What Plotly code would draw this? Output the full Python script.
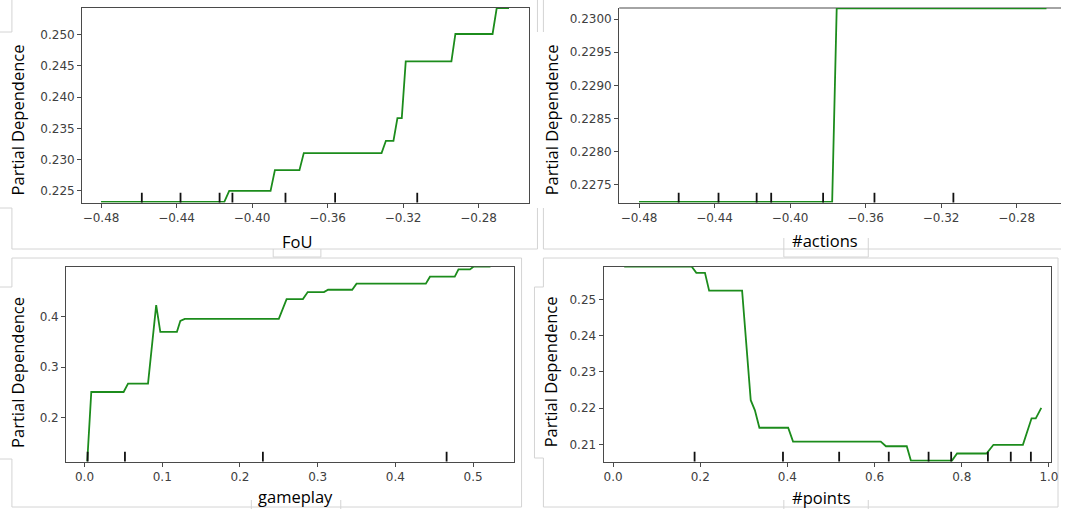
import plotly.graph_objects as go

W, H = 1068, 509

# Partial dependence curves (grid value, averaged prediction)
fou_x = [-0.4800, -0.4147, -0.4121, -0.3902, -0.3879, -0.3749, -0.3726, -0.3314, -0.3291,
         -0.3251, -0.3230, -0.3207, -0.3186, -0.2944, -0.2923, -0.2726, -0.2704, -0.2639]
fou_pd = [0.22324, 0.22324, 0.22500, 0.22500, 0.22831, 0.22831, 0.23104, 0.23104, 0.23301,
          0.23301, 0.23665, 0.23665, 0.24573, 0.24573, 0.25011, 0.25011, 0.25427, 0.25427]
fou_deciles = [-0.4584, -0.4379, -0.4172, -0.4104, -0.3823, -0.3560, -0.3125]

actions_x = [-0.4800, -0.3777, -0.3753, -0.2642]
actions_pd = [0.227243, 0.227243, 0.230161, 0.230161]
actions_deciles = [-0.4590, -0.4379, -0.4177, -0.4100, -0.3825, -0.3553, -0.3135]

gameplay_x = [0.0035, 0.0087, 0.0503, 0.0560, 0.0817, 0.0922, 0.0975, 0.1189, 0.1233, 0.1290,
              0.2500, 0.2600, 0.2810, 0.2872, 0.3081, 0.3134, 0.3444, 0.3500, 0.4392, 0.4445,
              0.4764, 0.4812, 0.4960, 0.5004, 0.5223]
gameplay_pd = [0.1132, 0.2510, 0.2510, 0.2675, 0.2675, 0.4232, 0.3702, 0.3702, 0.3920, 0.3960,
               0.3960, 0.4351, 0.4351, 0.4490, 0.4490, 0.4536, 0.4536, 0.4656, 0.4656, 0.4795,
               0.4795, 0.4940, 0.4940, 0.4993, 0.4993]
gameplay_deciles = [0.0040, 0.0520, 0.2295, 0.4659]

points_x = [0.0255, 0.1806, 0.1910, 0.2108, 0.2204, 0.2960, 0.3158, 0.3254, 0.3357, 0.4017,
            0.4129, 0.6142, 0.6261, 0.6738, 0.6834, 0.7772, 0.7892, 0.8568, 0.8727, 0.9403,
            0.9602, 0.9698, 0.9825]
points_pd = [0.2590, 0.2590, 0.2573, 0.2573, 0.2524, 0.2524, 0.2222, 0.2194, 0.2146, 0.2146,
             0.2108, 0.2108, 0.2095, 0.2095, 0.2055, 0.2055, 0.2075, 0.2075, 0.2099, 0.2099,
             0.2172, 0.2172, 0.2201]
points_deciles = [0.1870, 0.3898, 0.5187, 0.6325, 0.7239, 0.7757, 0.8600, 0.9125, 0.9586]

feature_names = ["FoU", "#actions", "gameplay", "#points"]
y_title = "Partial Dependence"

LINE_GREEN = "#1c8c1c"
SPINE = "#4a4a4a"
FRAME = "#d4d4d4"


def px(x):
    return x / W


def py(y):
    return 1 - y / H


panels = [
    dict(x=fou_x, y=fou_pd, dec=fou_deciles, xd=(82.7, 532.5), yd=(8, 202.5),
         xr=(-0.49, -0.2533), yr=(0.22313, 0.25427),
         xt=dict(tick0=-0.48, dtick=0.04, tickformat=".2f"),
         yt=dict(tick0=0.225, dtick=0.005, tickformat=".3f"), mirror_x=True),
    dict(x=actions_x, y=actions_pd, dec=actions_deciles, xd=(623.3, 1068), yd=(8, 202.5),
         xr=(-0.4905, -0.2565), yr=(0.227233, 0.230166),
         xt=dict(tick0=-0.48, dtick=0.04, tickformat=".2f"),
         yt=dict(tick0=0.2275, dtick=0.0005, tickformat=".4f"), mirror_x=False),
    dict(x=gameplay_x, y=gameplay_pd, dec=gameplay_deciles, xd=(66.7, 517.3), yd=(266.7, 461.5),
         xr=(-0.0235, 0.5525), yr=(0.1132, 0.4993),
         xt=dict(tick0=0.0, dtick=0.1, tickformat=".1f"),
         yt=dict(tick0=0.2, dtick=0.1, tickformat=".1f"), mirror_x=True),
    dict(x=points_x, y=points_pd, dec=points_deciles, xd=(607.7, 1058.3), yd=(266.7, 461.5),
         xr=(-0.0215, 1.0056), yr=(0.2053, 0.2590),
         xt=dict(tick0=0.0, dtick=0.2, tickformat=".1f"),
         yt=dict(tick0=0.21, dtick=0.01, tickformat=".2f"), mirror_x=True),
]

fig = go.Figure()
layout = dict(
    width=W, height=H,
    margin=dict(l=0, r=0, t=0, b=0),
    paper_bgcolor="white", plot_bgcolor="white",
    showlegend=False,
)

tick_font = dict(family="DejaVu Sans", size=12, color="#404040")
shapes = []

for i, p in enumerate(panels, start=1):
    xa = "x" if i == 1 else f"x{i}"
    ya = "y" if i == 1 else f"y{i}"
    fig.add_trace(go.Scatter(x=p["x"], y=p["y"], mode="lines", xaxis=xa, yaxis=ya,
                             line=dict(color=LINE_GREEN, width=1.8), hoverinfo="skip"))
    common = dict(showgrid=False, zeroline=False, showline=True, linecolor=SPINE, linewidth=1.2,
                  ticks="outside", ticklen=4, tickwidth=1, tickcolor=SPINE, tickfont=tick_font,
                  tickmode="linear", layer="below traces")
    layout["xaxis" if i == 1 else f"xaxis{i}"] = dict(
        common, domain=[px(p["xd"][0]), px(p["xd"][1])], range=list(p["xr"]),
        anchor=ya, mirror=p["mirror_x"], **p["xt"])
    layout["yaxis" if i == 1 else f"yaxis{i}"] = dict(
        common, domain=[py(p["yd"][1]), py(p["yd"][0])], range=list(p["yr"]),
        anchor=xa, mirror=p["mirror_x"], **p["yt"])
    # top spine for the panel whose right edge runs off the figure
    if not p["mirror_x"]:
        shapes.append(dict(type="line", xref=f"{xa} domain", yref=f"{ya} domain", layer="below",
                           x0=0, x1=1, y0=1, y1=1, line=dict(color=SPINE, width=1.2)))
    # decile rug marks along the bottom of each axes
    for d in p["dec"]:
        shapes.append(dict(type="line", xref=xa, yref=f"{ya} domain", x0=d, x1=d, y0=0, y1=0.05,
                           line=dict(color="#111111", width=1.8)))

# light outlines around each panel
frame_segments = [
    # top-left
    ((12, 0), (12, 32)), ((0, 32), (12, 32)), ((0, 208), (12, 208)), ((12, 208), (12, 249)),
    ((12, 249), (541, 249)), ((541, 0), (541, 32)), ((541, 208), (541, 249)),
    ((275, 249), (275, 257)), ((323, 249), (323, 257)), ((275, 257), (323, 257)),
    # top-right
    ((547, 0), (547, 32)), ((547, 208), (547, 249)), ((547, 249), (1068, 249)),
    ((789, 238), (789, 257)), ((874, 238), (874, 257)), ((789, 257), (874, 257)),
    # bottom-left
    ((12, 258), (525, 258)), ((12, 258), (12, 287)), ((0, 287), (12, 287)),
    ((0, 459), (12, 459)), ((12, 459), (12, 507)), ((12, 507), (525, 507)),
    ((525, 258), (525, 507)), ((253, 500), (253, 509)), ((343, 500), (343, 509)),
    # bottom-right
    ((547, 258), (1065, 258)), ((547, 258), (547, 287)), ((538, 287), (547, 287)),
    ((538, 287), (538, 458)), ((538, 458), (547, 458)), ((547, 458), (547, 507)),
    ((547, 507), (1065, 507)), ((1065, 258), (1065, 507)),
    ((789, 500), (789, 509)), ((874, 500), (874, 509)),
]
for (x0, y0), (x1, y1) in frame_segments:
    shapes.insert(0, dict(type="line", xref="paper", yref="paper", layer="below",
                          x0=px(x0), y0=py(y0), x1=px(x1), y1=py(y1),
                          line=dict(color=FRAME, width=1)))

layout["shapes"] = shapes

label_font = dict(family="Open Sans", size=16.5, color="black")
annotations = []
ylabel_pos = [(17.5, 120), (555, 120), (17, 372), (554, 372)]
xlabel_pos = [(298.5, 241), (830, 240), (297, 496), (827, 497)]
for (yx, yy), (xx, xy), name in zip(ylabel_pos, xlabel_pos, feature_names):
    annotations.append(dict(text=y_title, xref="paper", yref="paper", x=px(yx), y=py(yy),
                            textangle=-90, showarrow=False, font=label_font,
                            xanchor="center", yanchor="middle"))
    annotations.append(dict(text=name, xref="paper", yref="paper", x=px(xx), y=py(xy),
                            showarrow=False, font=label_font, xanchor="center", yanchor="middle"))
layout["annotations"] = annotations

fig.update_layout(**layout)
fig.write_html("out.html")
